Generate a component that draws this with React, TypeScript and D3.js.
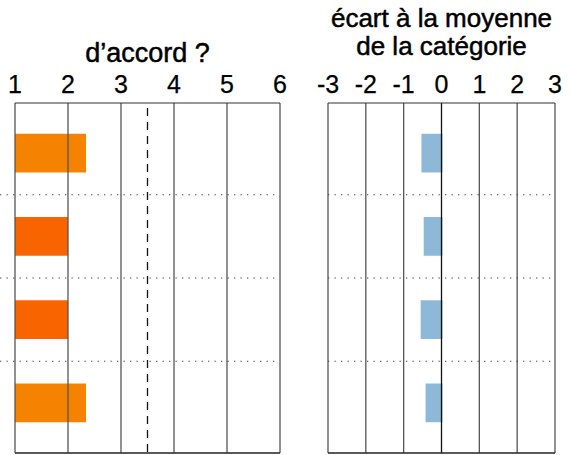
import React from "react";
import * as d3 from "d3";

// one row per statement (no labels shown in the chart)
const rows = ["q1", "q2", "q3", "q4"];
const accordValues = [2.34, 2.0, 2.0, 2.34];
const accordColors = ["#F58200", "#F76400", "#F76400", "#F58200"];
const categoryMean = 3.5;
const ecartValues = [-0.53, -0.47, -0.55, -0.42];
const accordTicks = [1, 2, 3, 4, 5, 6];
const ecartTicks = [-3, -2, -1, 0, 1, 2, 3];

const W = 570;
const H = 455;
const top = 103;
const bottom = 453;
const font = "'Liberation Sans', Arial, Helvetica, sans-serif";

const App = () => {
  const y = d3
    .scaleBand<string>()
    .domain(rows)
    .range([top + 8.5, bottom - 8.5])
    .paddingInner(0)
    .paddingOuter(0);
  const barH = y.bandwidth() * 0.465;
  const barOff = (y.bandwidth() - barH) / 2;

  const xA = d3.scaleLinear().domain([1, 6]).range([15, 280]);
  const xE = d3.scaleLinear().domain([-3, 3]).range([328, 555]);

  const separators = rows.slice(1).map((r) => y(r) as number);

  return (
    <svg
      width={W}
      height={H}
      style={{ position: "absolute", left: 0, top: 0, background: "#fff" }}
      fontFamily={font}
    >
      {/* left panel: agreement */}
      <text
        x={(15 + 280) / 2}
        y={62}
        textAnchor="middle"
        fontSize={27}
        stroke="#000"
        strokeWidth={0.5}
      >
        d’accord ?
      </text>
      {accordTicks.map((t) => (
        <text key={t} x={xA(t)} y={93} textAnchor="middle" fontSize={25} stroke="#000" strokeWidth={0.25}>
          {t}
        </text>
      ))}
      {rows.map((r, i) => (
        <rect
          key={r}
          x={xA(1)}
          y={(y(r) as number) + barOff}
          width={xA(accordValues[i]) - xA(1)}
          height={barH}
          fill={accordColors[i]}
        />
      ))}
      {accordTicks.map((t) => (
        <line
          key={t}
          x1={xA(t)}
          x2={xA(t)}
          y1={top}
          y2={bottom}
          stroke="#555"
          strokeWidth={1.3}
        />
      ))}
      <line x1={xA(1)} x2={xA(6)} y1={top} y2={top} stroke="#333" strokeWidth={1.2} />
      <line x1={xA(1)} x2={xA(6)} y1={bottom} y2={bottom} stroke="#222" strokeWidth={1.4} />
      {separators.map((s, i) => (
        <line
          key={i}
          x1={0}
          x2={276}
          y1={s}
          y2={s}
          stroke="#444"
          strokeWidth={1.2}
          strokeDasharray="1.3,5.2"
        />
      ))}
      <line
        x1={xA(categoryMean)}
        x2={xA(categoryMean)}
        y1={top + 5}
        y2={bottom}
        stroke="#111"
        strokeWidth={1.3}
        strokeDasharray="8,6"
      />

      {/* right panel: deviation from the category mean */}
      <text x={441.5} y={27} textAnchor="middle" fontSize={26} stroke="#000" strokeWidth={0.5}>
        écart à la moyenne
      </text>
      <text x={441.5} y={55} textAnchor="middle" fontSize={26} stroke="#000" strokeWidth={0.5}>
        de la catégorie
      </text>
      {ecartTicks.map((t) => (
        <text key={t} x={xE(t)} y={93} textAnchor="middle" fontSize={25} stroke="#000" strokeWidth={0.25}>
          {t}
        </text>
      ))}
      {rows.map((r, i) => (
        <rect
          key={r}
          x={xE(Math.min(0, ecartValues[i]))}
          y={(y(r) as number) + barOff}
          width={Math.abs(xE(ecartValues[i]) - xE(0)) + 1}
          height={barH}
          fill="#8DB8D7"
        />
      ))}
      {ecartTicks.map((t) => (
        <line
          key={t}
          x1={xE(t)}
          x2={xE(t)}
          y1={top}
          y2={bottom}
          stroke={t === 0 ? "#111" : "#555"}
          strokeWidth={1.3}
        />
      ))}
      <line x1={xE(-3)} x2={xE(3)} y1={top} y2={top} stroke="#333" strokeWidth={1.2} />
      <line x1={xE(-3)} x2={xE(3)} y1={bottom} y2={bottom} stroke="#222" strokeWidth={1.4} />
      {separators.map((s, i) => (
        <line
          key={i}
          x1={xE(-3)}
          x2={553}
          y1={s}
          y2={s}
          stroke="#444"
          strokeWidth={1.2}
          strokeDasharray="1.3,5.2"
        />
      ))}
    </svg>
  );
};

export default App;
